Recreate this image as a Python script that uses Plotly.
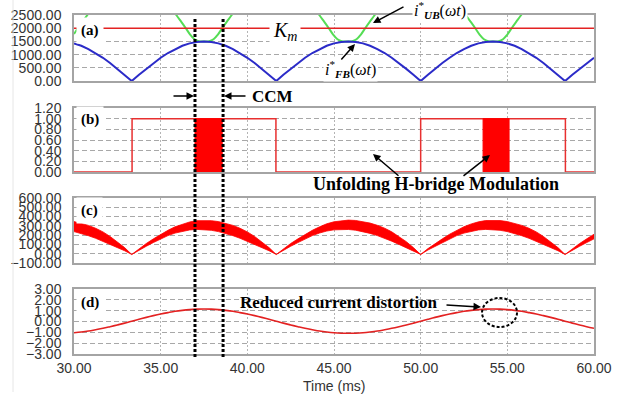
import plotly.graph_objects as go

W, H = 620, 396

# ---------------- data ----------------
T = [30.00, 30.42, 30.83, 31.25, 31.67, 32.08, 32.50, 32.92, 33.33, 33.75,
     34.17, 34.58, 35.00, 35.42, 35.83, 36.25, 36.67, 37.08, 37.50, 37.92,
     38.33, 38.75, 39.17, 39.58, 40.00, 40.42, 40.83, 41.25, 41.67, 42.08,
     42.50, 42.92, 43.33, 43.75, 44.17, 44.58, 45.00, 45.42, 45.83, 46.25,
     46.67, 47.08, 47.50, 47.92, 48.33, 48.75, 49.17, 49.58, 50.00, 50.42,
     50.83, 51.25, 51.67, 52.08, 52.50, 52.92, 53.33, 53.75, 54.17, 54.58,
     55.00, 55.42, 55.83, 56.25, 56.67, 57.08, 57.50, 57.92, 58.33, 58.75,
     59.17, 59.58, 60.00]

# (a) i*_FB(wt)
I_FB = [1425, 1335, 1210, 1060, 880, 680, 460, 235, 0,
        235, 460, 680, 880, 1060, 1210, 1335, 1425, 1480, 1500,
        1480, 1425, 1335, 1210, 1060, 880, 680, 460, 235, 0,
        235, 460, 680, 880, 1060, 1210, 1335, 1425, 1480, 1500,
        1480, 1425, 1335, 1210, 1060, 880, 680, 460, 235, 0,
        235, 460, 680, 880, 1060, 1210, 1335, 1425, 1480, 1500,
        1480, 1425, 1335, 1210, 1060, 880, 680, 460, 235, 0,
        235, 460, 680, 880]

# (a) i*_UB(wt)  (segments separated by None)
UB_T = [30.00, 30.22, 30.47, 30.77, 31.07, None,
        35.60, 35.90, 36.20, 36.45, 36.70, 36.95, 37.20, 37.50, 37.80, 38.05, 38.30, 38.55, 38.80, 39.10, 39.40, None,
        43.85, 44.15, 44.45, 44.70, 44.95, 45.20, 45.45, 45.75, 46.05, 46.30, 46.55, 46.80, 47.05, 47.35, 47.65, None,
        52.30, 52.60, 52.90, 53.15, 53.40, 53.65, 53.90, 54.20, 54.50, 54.75, 55.00, 55.25, 55.50, 55.80, 56.10]
I_UB = [1780, 2000, 2230, 2500, 2800, None,
        2800, 2500, 2230, 2000, 1760, 1580, 1505, 1500, 1505, 1580, 1760, 2000, 2230, 2500, 2800, None,
        2800, 2500, 2230, 2000, 1760, 1580, 1505, 1500, 1505, 1580, 1760, 2000, 2230, 2500, 2800, None,
        2800, 2500, 2230, 2000, 1760, 1580, 1505, 1500, 1505, 1580, 1760, 2000, 2230, 2500, 2800]

KM = 2000

# (b) unfolding H-bridge signal and modulated (PWM) blocks
MOD_T = [30.00, 33.35, 33.35, 41.65, 41.65, 50.00, 50.00, 58.35, 58.35, 60.00]
MOD_V = [0, 0, 1, 1, 0, 0, 1, 1, 0, 0]
PWM_START = [36.98, 53.60]
PWM_END = [38.55, 55.10]

# (c) switching current band (upper / lower envelope)
BAND_HI = [346, 328, 305, 274, 235, 186, 130, 66, -8,
           55, 110, 160, 210, 252, 290, 320, 342, 356, 360,
           356, 346, 328, 305, 274, 235, 186, 130, 66, -8,
           55, 110, 160, 210, 252, 290, 322, 344, 357, 362,
           358, 347, 330, 306, 275, 236, 186, 130, 66, -8,
           55, 110, 160, 210, 252, 291, 321, 343, 357, 361,
           357, 346, 329, 305, 274, 235, 186, 130, 66, -8,
           55, 110, 160, 210]
BAND_LO = [238, 218, 194, 166, 134, 100, 66, 32, -8,
           40, 80, 120, 160, 195, 222, 243, 256, 262, 260,
           252, 238, 218, 194, 166, 134, 100, 66, 32, -8,
           40, 80, 120, 160, 195, 223, 244, 257, 263, 261,
           253, 239, 219, 195, 167, 135, 100, 66, 32, -8,
           40, 80, 120, 160, 195, 222, 243, 256, 262, 260,
           252, 238, 218, 194, 166, 134, 100, 66, 32, -8,
           40, 80, 120, 160]

# (d) grid current
I_GRID = [-1.04, -0.97, -0.88, -0.76, -0.63, -0.48, -0.32, -0.15, 0.03,
          0.21, 0.38, 0.54, 0.69, 0.82, 0.94, 1.03, 1.10, 1.14, 1.15,
          1.14, 1.10, 1.03, 0.94, 0.82, 0.69, 0.54, 0.38, 0.21, 0.03,
          -0.15, -0.32, -0.48, -0.63, -0.76, -0.88, -0.97, -1.04, -1.08, -1.09,
          -1.08, -1.04, -0.97, -0.88, -0.76, -0.63, -0.48, -0.32, -0.15, 0.03,
          0.21, 0.38, 0.54, 0.69, 0.82, 0.94, 1.03, 1.10, 1.14, 1.15,
          1.14, 1.10, 1.03, 0.94, 0.82, 0.69, 0.54, 0.38, 0.21, 0.03,
          -0.15, -0.32, -0.48, -0.63]

CCM_T = [36.98, 38.60]
CIRCLE_T, CIRCLE_V = 54.55, 0.83

X_TICKS = [30, 35, 40, 45, 50, 55, 60]
YA_TICKS = [0, 500, 1000, 1500, 2000, 2500]
YB_TICKS = [0, 0.2, 0.4, 0.6, 0.8, 1.0, 1.2]
YC_TICKS = [-100, 0, 100, 200, 300, 400, 500, 600]
YD_TICKS = [-3, -2, -1, 0, 1, 2, 3]

# ---------------- helpers ----------------
def px(x):
    return x / W

def py(y):
    return 1 - y / H

RED = "#e32222"
BLUE = "#2b2bc8"
GREEN = "#55dd55"
TICKFONT = dict(family="Liberation Sans", size=14, color="#333333")
SERIF = "Liberation Serif"

fig = go.Figure()

# (a)
fig.add_trace(go.Scatter(x=UB_T, y=I_UB, mode="lines", line=dict(color=GREEN, width=2, shape="spline"),
                         connectgaps=False, xaxis="x", yaxis="y"))
fig.add_trace(go.Scatter(x=T, y=I_FB, mode="lines", line=dict(color=BLUE, width=2),
                         xaxis="x", yaxis="y"))
fig.add_trace(go.Scatter(x=[30, 60], y=[KM, KM], mode="lines", line=dict(color=RED, width=1.5),
                         xaxis="x", yaxis="y"))

# (b)
pwm_x, pwm_y = [], []
for s, e in zip(PWM_START, PWM_END):
    pwm_x += [s, s, e, e, s, None]
    pwm_y += [0, 1, 1, 0, 0, None]
fig.add_trace(go.Scatter(x=MOD_T, y=MOD_V, mode="lines", line=dict(color="#e83030", width=1.5),
                         xaxis="x2", yaxis="y2"))
fig.add_trace(go.Scatter(x=pwm_x, y=pwm_y, mode="lines", fill="toself", fillcolor="#ff0000",
                         line=dict(color="#ff0000", width=1), xaxis="x2", yaxis="y2"))

# (c)
fig.add_trace(go.Scatter(x=T, y=BAND_LO, mode="lines", line=dict(color="#ff0000", width=0.8),
                         xaxis="x3", yaxis="y3"))
fig.add_trace(go.Scatter(x=T, y=BAND_HI, mode="lines", fill="tonexty", fillcolor="#ff0000",
                         line=dict(color="#ff0000", width=0.8), xaxis="x3", yaxis="y3"))

# (d)
fig.add_trace(go.Scatter(x=T, y=I_GRID, mode="lines", line=dict(color=RED, width=1.6, shape="spline"),
                         xaxis="x4", yaxis="y4"))

XD = [74 / W, 594 / W]


def xax(anchor, show):
    return dict(domain=XD, range=[30, 60], anchor=anchor, tickvals=X_TICKS, tickformat=".2f",
                showticklabels=show, showgrid=True, gridcolor="#b4b4b4", griddash="2px,2px",
                gridwidth=1, showline=True, mirror=True, linecolor="#a4a4a4", linewidth=1.5,
                ticks="", zeroline=False, tickfont=TICKFONT, ticklabelstandoff=0,
                automargin=False, fixedrange=True)


def yax(anchor, top, bottom, rng, vals):
    return dict(domain=[py(bottom), py(top)], range=rng, anchor=anchor, tickvals=vals,
                tickformat=".2f", showgrid=True, gridcolor="#a8a8a8", griddash="5px,3px",
                gridwidth=1, showline=True, mirror=True, linecolor="#a4a4a4", linewidth=1.5,
                ticks="", zeroline=False, tickfont=TICKFONT, ticklabelstandoff=8,
                automargin=False, fixedrange=True)


def txt(x, y, text, size, family=SERIF, bg=None, pad=1, color="black"):
    d = dict(xref="paper", yref="paper", x=px(x), y=py(y), text=text, showarrow=False,
             xanchor="center", yanchor="middle", font=dict(family=family, size=size, color=color),
             borderpad=pad)
    if bg:
        d["bgcolor"] = bg
    return d


def arrow(tip, tail):
    return dict(xref="paper", yref="paper", x=px(tip[0]), y=py(tip[1]),
                ax=tail[0] - tip[0], ay=tail[1] - tip[1], text="", showarrow=True,
                arrowhead=2, arrowsize=1, arrowwidth=1.5, arrowcolor="black")


annotations = [
    txt(90, 30, "<b>(a)</b>", 15, bg="white", pad=4),
    txt(90, 120, "<b>(b)</b>", 15, bg="white", pad=4),
    txt(89, 210, "<b>(c)</b>", 15, bg="white", pad=4),
    txt(90, 302, "<b>(d)</b>", 15, bg="white", pad=4),
    txt(285, 32, "<i>K</i><sub><i>m</i></sub>", 20, bg="white", pad=3),
    txt(440, 10, "<i>i</i><sup>*</sup><sub><b><i>UB</i></b></sub>(<i>ωt</i>)", 16, bg="white", pad=1),
    txt(350, 69, "<i>i</i><sup>*</sup><sub><b><i>FB</i></b></sub>(<i>ωt</i>)", 16, bg="white", pad=1),
    txt(272, 97, "<b>CCM</b>", 17),
    txt(436, 184, "<b>Unfolding H-bridge Modulation</b>", 18),
    txt(339, 302, "<b>Reduced current distortion</b>", 17),
    txt(334, 386, "Time (ms)", 14, family="Liberation Sans", color="#333333"),
    arrow((373, 23), (405, 6)),
    arrow((355, 44), (340, 61)),
    arrow((194, 96), (172, 96)),
    arrow((224, 96), (247, 96)),
    arrow((373, 154), (400, 177)),
    arrow((490, 155), (462, 177)),
    arrow((481, 307), (445, 305)),
]

shapes = []
for t in CCM_T:
    shapes.append(dict(type="line", xref="x", yref="paper", x0=t, x1=t, y0=py(357), y1=py(18),
                       line=dict(color="black", width=3, dash="3px,2px")))
shapes.append(dict(type="circle", xref="x4", yref="y4", xsizemode="pixel", ysizemode="pixel",
                   xanchor=CIRCLE_T, yanchor=CIRCLE_V, x0=-17.5, x1=17.5, y0=-14.5, y1=14.5,
                   line=dict(color="black", width=2, dash="3px,2px")))
shapes.append(dict(type="line", xref="paper", yref="paper", x0=px(13), x1=px(13), y0=py(392), y1=1,
                   line=dict(color="#e6e6e6", width=1)))

fig.update_layout(
    template="none",
    width=W, height=H, autosize=False,
    margin=dict(l=0, r=0, t=0, b=0),
    paper_bgcolor="white", plot_bgcolor="white",
    showlegend=False,
    font=dict(family="Liberation Sans", size=14, color="#333333"),
    xaxis=xax("y", False),
    xaxis2=xax("y2", False),
    xaxis3=xax("y3", False),
    xaxis4=xax("y4", True),
    yaxis=yax("x", 15, 81, [0, 2500], YA_TICKS),
    yaxis2=yax("x2", 108, 172, [0, 1.2], YB_TICKS),
    yaxis3=yax("x3", 198, 263, [-100, 600], YC_TICKS),
    yaxis4=yax("x4", 289, 354, [-3, 3], YD_TICKS),
    annotations=annotations,
    shapes=shapes,
)

fig.write_html("out.html", config={"displayModeBar": False},
               post_script="document.body.style.margin='0px';document.body.style.padding='0px';")
